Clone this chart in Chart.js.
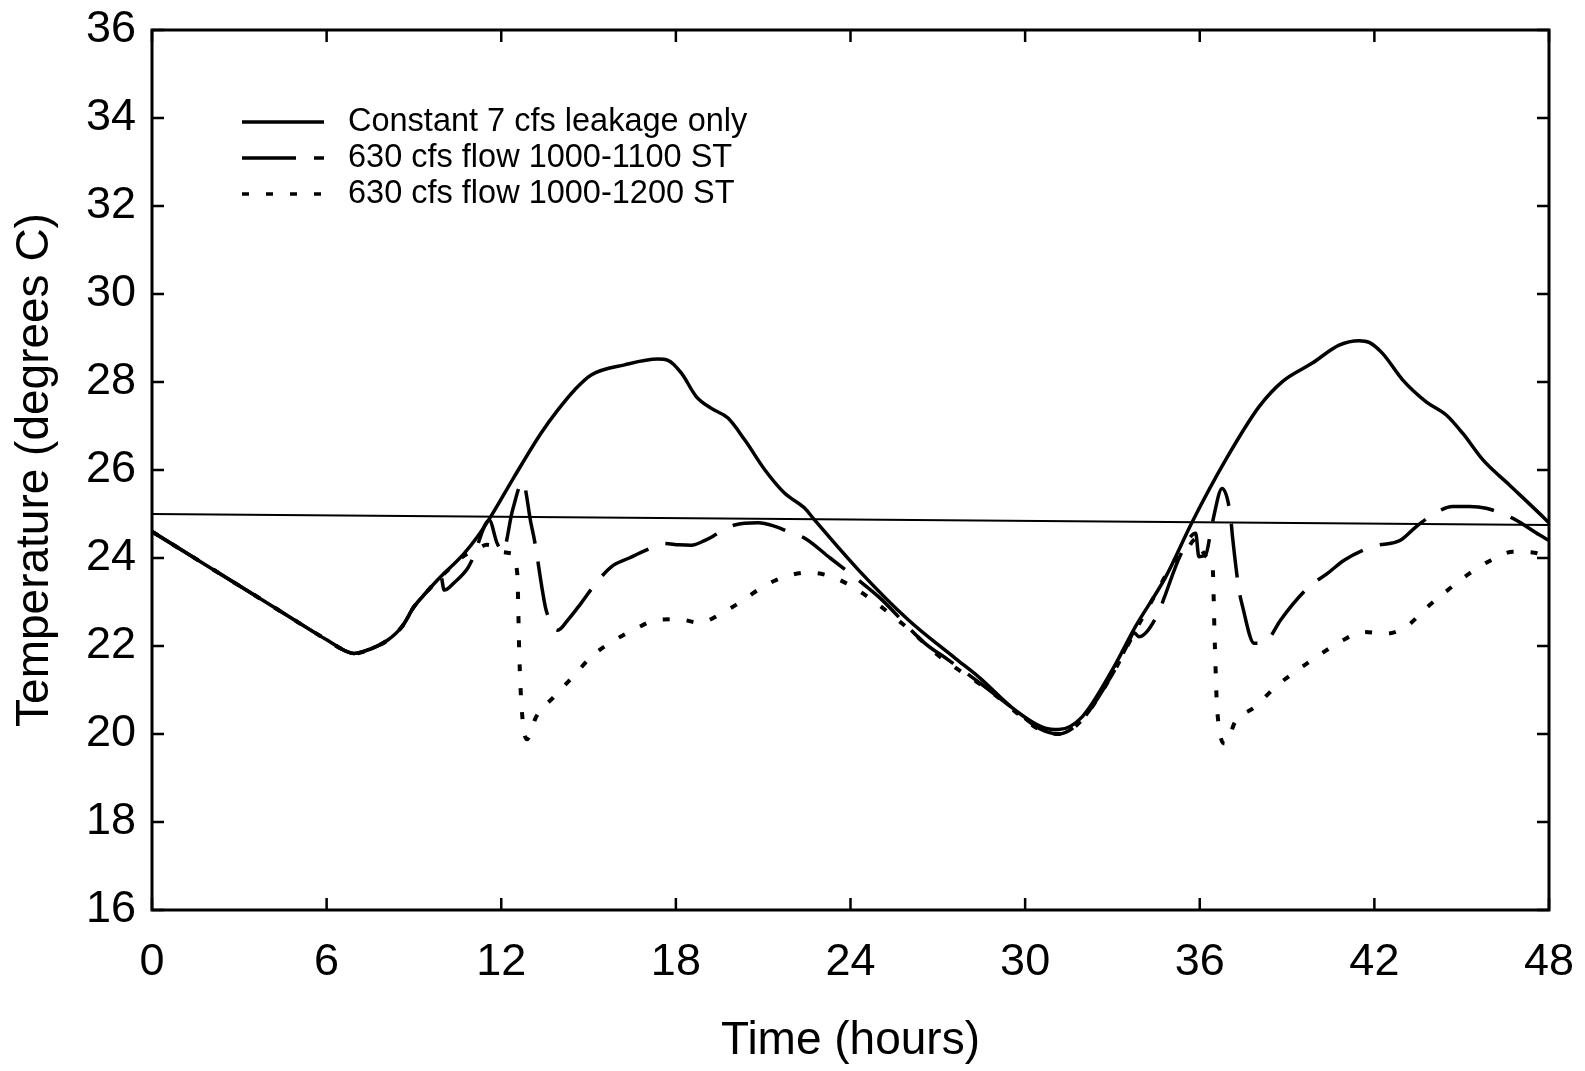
<!DOCTYPE html>
<html>
<head>
<meta charset="utf-8">
<script src="https://cdn.jsdelivr.net/npm/chart.js@4.4.1/dist/chart.umd.min.js"></script>
<style>
  html, body { margin: 0; padding: 0; background: #fff; }
  #wrap { width: 1585px; height: 1071px; position: relative; }
</style>
</head>
<body>
<div id="wrap"><canvas id="c"></canvas></div>
<script>
// ---- data ----
const xTickHours = [0, 6, 12, 18, 24, 30, 36, 42, 48];
const yTickTemps = [16, 18, 20, 22, 24, 26, 28, 30, 32, 34, 36];

const seriesLabels = [
  "Constant 7 cfs leakage only",
  "630 cfs flow 1000-1100 ST",
  "630 cfs flow 1000-1200 ST"
];

const leakHours = [0, 2, 4, 6, 6.7, 6.94, 7.5, 8.09, 8.6, 9.0, 9.4, 9.81, 10.72, 11.2, 11.64, 12.45, 13.36, 13.94, 14.52, 15.09, 16.24, 17.38, 17.73, 18.19, 18.7, 19.22, 19.79, 20.37, 21.06, 21.74, 22.43, 22.72, 24.27, 25.99, 27.6, 28.4, 29.66, 30.69, 31.15, 31.96, 32.99, 33.79, 34.83, 35.74, 36.89, 38.04, 38.84, 39.87, 40.79, 41.48, 41.82, 42.28, 42.97, 43.78, 44.47, 45.04, 45.73, 46.64, 47.91, 48];
const leakTemps = [24.6, 23.78, 22.96, 22.14, 21.87, 21.83, 21.93, 22.13, 22.45, 22.89, 23.2, 23.5, 24.1, 24.5, 24.94, 25.85, 26.83, 27.36, 27.82, 28.16, 28.39, 28.52, 28.49, 28.2, 27.67, 27.4, 27.18, 26.68, 26.0, 25.47, 25.13, 24.9, 23.73, 22.59, 21.72, 21.3, 20.54, 20.13, 20.1, 20.39, 21.45, 22.44, 23.57, 24.82, 26.23, 27.44, 28.01, 28.43, 28.84, 28.94, 28.9, 28.65, 28.05, 27.55, 27.25, 26.83, 26.23, 25.66, 24.86, 24.8];

const flow1100Hours = [0, 2, 4, 6, 6.7, 6.94, 7.5, 8.09, 8.6, 9.0, 9.4, 9.81, 9.92, 10.04, 10.4, 10.84, 11.02, 11.59, 11.85, 12.05, 12.39, 12.74, 13.02, 13.14, 13.43, 13.54, 13.94, 14.3, 14.74, 15.2, 15.78, 16.4, 16.98, 17.61, 18.1, 18.53, 19.0, 19.45, 20.02, 20.83, 21.4, 21.86, 22.43, 23.3, 24.27, 25.0, 26.56, 27.37, 28.46, 29.5, 30.5, 31.15, 31.96, 32.99, 33.5, 33.75, 33.91, 34.6, 34.77, 35.34, 35.86, 35.97, 36.2, 36.43, 36.77, 37.06, 37.12, 37.35, 37.46, 37.87, 38.15, 38.38, 38.78, 39.76, 40.39, 40.96, 41.94, 42.91, 43.43, 44.0, 44.69, 45.27, 45.84, 46.76, 47.68, 48];
const flow1100Temps = [24.6, 23.78, 22.96, 22.14, 21.87, 21.83, 21.93, 22.13, 22.45, 22.89, 23.2, 23.5, 23.6, 23.27, 23.45, 23.76, 23.99, 24.86, 24.35, 24.14, 25.09, 25.73, 24.79, 24.41, 23.2, 22.82, 22.36, 22.6, 22.97, 23.38, 23.8, 24.0, 24.18, 24.33, 24.3, 24.29, 24.4, 24.56, 24.75, 24.8, 24.72, 24.6, 24.45, 24.0, 23.5, 23.1, 22.06, 21.68, 21.15, 20.62, 20.12, 20.0, 20.33, 21.35, 22.0, 22.3, 22.21, 22.78, 23.08, 24.07, 24.56, 24.03, 24.07, 24.79, 25.58, 24.94, 24.52, 23.27, 22.93, 22.06, 22.06, 22.17, 22.59, 23.35, 23.65, 23.95, 24.26, 24.41, 24.71, 24.98, 25.17, 25.17, 25.13, 24.9, 24.52, 24.4];

const flow1200Hours = [0, 2, 4, 6, 6.7, 6.94, 7.5, 8.09, 8.6, 9.0, 9.4, 9.81, 10.3, 10.72, 11.13, 11.5, 11.76, 12.0, 12.33, 12.55, 12.62, 12.7, 12.88, 13.2, 13.8, 14.46, 15.15, 15.89, 16.64, 17.33, 18.07, 18.82, 19.56, 20.31, 21.0, 21.74, 22.49, 23.18, 23.87, 24.67, 25.42, 26.17, 26.86, 27.55, 28.24, 29.04, 29.73, 30.53, 31.22, 31.96, 32.99, 33.79, 34.5, 35.2, 35.5, 35.9, 36.1, 36.3, 36.43, 36.52, 36.6, 36.88, 37.22, 37.91, 38.6, 39.36, 40.1, 40.91, 41.65, 42.4, 43.09, 43.83, 44.52, 45.27, 46.01, 46.76, 47.5, 48];
const flow1200Temps = [24.6, 23.78, 22.96, 22.14, 21.87, 21.83, 21.93, 22.13, 22.45, 22.89, 23.2, 23.5, 23.8, 24.05, 24.18, 24.3, 24.26, 24.14, 24.11, 23.65, 21.8, 20.6, 19.88, 20.39, 20.84, 21.3, 21.79, 22.13, 22.4, 22.59, 22.61, 22.53, 22.74, 23.04, 23.35, 23.57, 23.67, 23.61, 23.42, 23.08, 22.7, 22.29, 21.87, 21.53, 21.23, 20.85, 20.47, 20.09, 20.0, 20.33, 21.35, 22.35, 23.2, 24.0, 24.15, 24.45, 24.15, 24.0, 23.95, 22.0, 20.54, 19.78, 20.28, 20.62, 21.07, 21.45, 21.79, 22.13, 22.32, 22.28, 22.44, 22.89, 23.27, 23.65, 23.95, 24.14, 24.12, 24.0];

const refHours = [0, 48];
const refTemps = [25.0, 24.75];

// ---- build chart ----
const toXY = (xs, ys) => xs.map((x, i) => ({ x: x, y: ys[i] }));
const FONT = '"Liberation Sans", Arial, Helvetica, sans-serif';
Chart.defaults.font.family = FONT;
Chart.defaults.color = '#000';

const frameAndTicks = {
  id: 'frameAndTicks',
  afterDatasetsDraw(chart) {
    const { ctx, chartArea: a, scales } = chart;
    ctx.save();
    ctx.strokeStyle = '#000';
    ctx.lineWidth = 2.5;
    ctx.setLineDash([]);
    const L = 12;
    ctx.beginPath();
    xTickHours.forEach(h => {
      const px = scales.x.getPixelForValue(h);
      ctx.moveTo(px, a.bottom); ctx.lineTo(px, a.bottom - L);
      ctx.moveTo(px, a.top); ctx.lineTo(px, a.top + L);
    });
    yTickTemps.forEach(t => {
      const py = scales.y.getPixelForValue(t);
      ctx.moveTo(a.left, py); ctx.lineTo(a.left + L, py);
      ctx.moveTo(a.right, py); ctx.lineTo(a.right - L, py);
    });
    ctx.stroke();
    ctx.lineWidth = 3;
    ctx.strokeRect(a.left, a.top, a.right - a.left, a.bottom - a.top);
    ctx.restore();
  }
};

const innerLegend = {
  id: 'innerLegend',
  afterDatasetsDraw(chart) {
    const { ctx, chartArea: a } = chart;
    ctx.save();
    ctx.font = '32.5px ' + FONT;
    ctx.fillStyle = '#000';
    ctx.textBaseline = 'middle';
    ctx.textAlign = 'left';
    const rows = [92, 128, 164];
    for (let i = 0; i < 3; i++) {
      const ds = chart.data.datasets[i];
      const y = a.top + rows[i];
      ctx.strokeStyle = '#000';
      ctx.lineWidth = 3.5;
      ctx.setLineDash(ds.borderDash || []);
      ctx.beginPath();
      ctx.moveTo(a.left + 90, y);
      ctx.lineTo(a.left + 172, y);
      ctx.stroke();
      ctx.setLineDash([]);
      ctx.fillText(ds.label, a.left + 196, y);
    }
    ctx.restore();
  }
};

const common = { pointRadius: 0, fill: false, borderColor: '#000', cubicInterpolationMode: 'monotone', borderCapStyle: 'butt' };

new Chart(document.getElementById('c'), {
  type: 'line',
  data: {
    datasets: [
      Object.assign({ label: seriesLabels[0], data: toXY(leakHours, leakTemps), borderWidth: 3.5 }, common),
      Object.assign({ label: seriesLabels[1], data: toXY(flow1100Hours, flow1100Temps), borderWidth: 3.5, borderDash: [54, 18] }, common),
      Object.assign({ label: seriesLabels[2], data: toXY(flow1200Hours, flow1200Temps), borderWidth: 4, borderDash: [7, 17] }, common),
      Object.assign({ label: '25 C', data: toXY(refHours, refTemps), borderWidth: 2.2 }, common)
    ]
  },
  options: {
    responsive: true,
    maintainAspectRatio: false,
    animation: false,
    layout: { padding: { top: 30, right: 36, bottom: 0, left: 0 } },
    plugins: { legend: { display: false }, tooltip: { enabled: false } },
    scales: {
      x: {
        type: 'linear', min: 0, max: 48,
        afterBuildTicks: s => { s.ticks = xTickHours.map(v => ({ value: v })); },
        afterFit: s => { s.height = 161; s.paddingLeft = 0; s.paddingRight = 0; },
        grid: { display: false, drawTicks: false },
        border: { display: false },
        ticks: { font: { size: 45 }, padding: 26, maxRotation: 0, autoSkip: false },
        title: { display: true, text: 'Time (hours)', font: { size: 46 }, padding: { top: 0, bottom: 2 } }
      },
      y: {
        type: 'linear', min: 16, max: 36,
        afterBuildTicks: s => { s.ticks = yTickTemps.map(v => ({ value: v })); },
        afterFit: s => { s.width = 152; s.paddingTop = 0; s.paddingBottom = 0; },
        grid: { display: false, drawTicks: false },
        border: { display: false },
        ticks: { font: { size: 45 }, padding: 16, autoSkip: false },
        title: { display: true, text: 'Temperature (degrees C)', font: { size: 46 }, padding: { top: 8, bottom: 0 } }
      }
    }
  },
  plugins: [frameAndTicks, innerLegend]
});
</script>
</body>
</html>
